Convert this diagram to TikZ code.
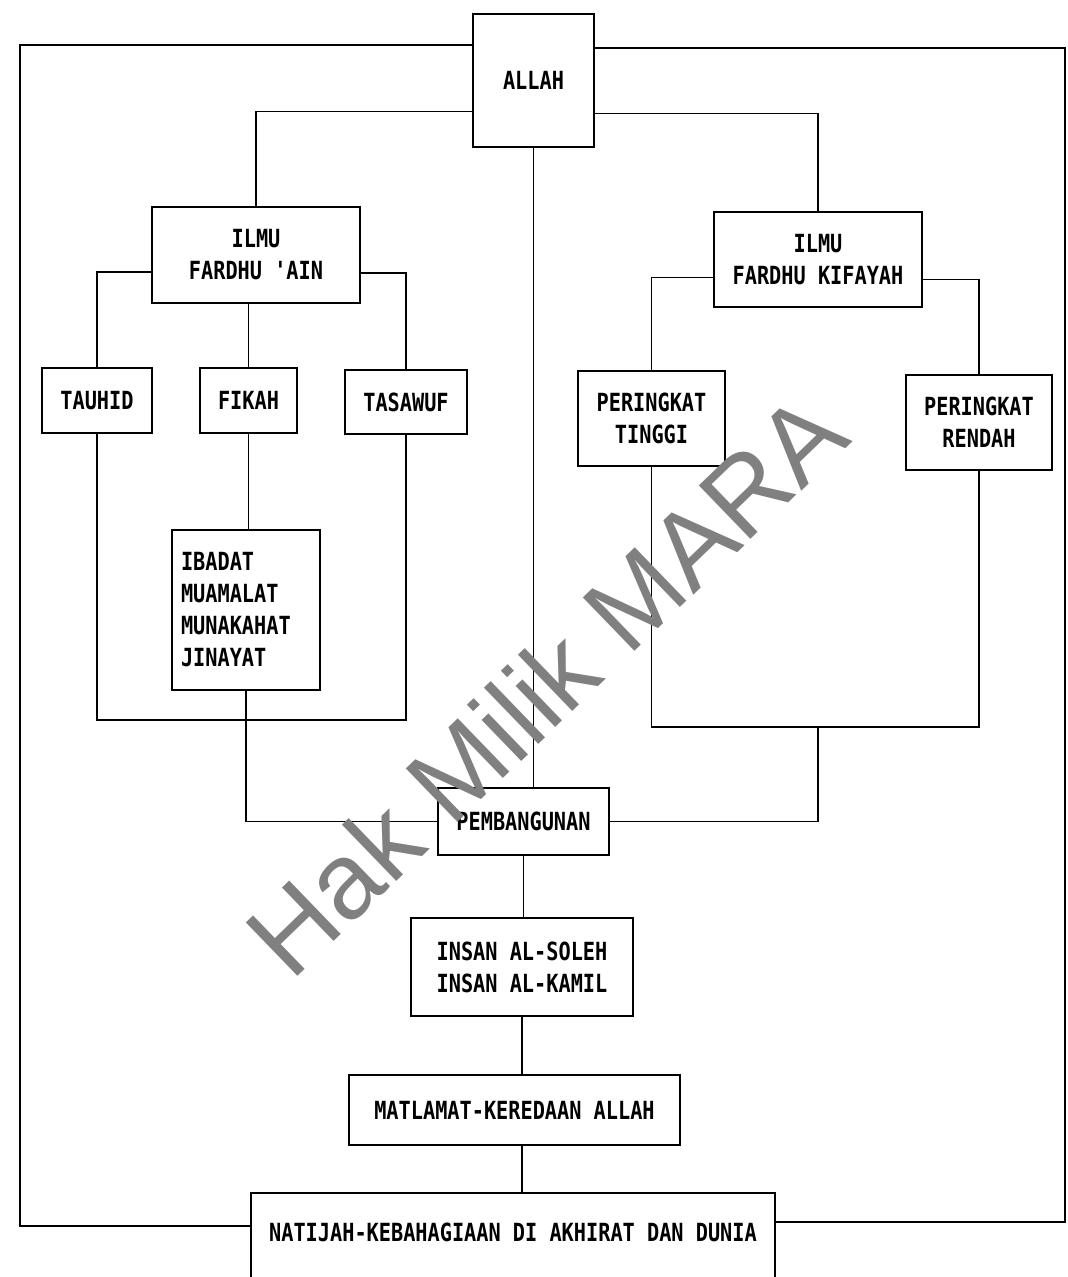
\documentclass[tikz,border=0pt]{standalone}
\usepackage{fontspec}
\usepackage{tikz}
\usetikzlibrary{calc}
\newfontfamily\dotfont{DejaVu Sans Mono}[FakeStretch=0.81]
\newfontfamily\markfont{Liberation Sans}
\tikzset{
	kotak/.style={draw, line width=2.6pt, inner sep=0pt, align=center, font=\dotfont\bfseries\fontsize{25}{32}\selectfont},
	garis/.style={line width=1.8pt},
	tera/.style={rotate=44, anchor=base west, inner sep=0pt, text=gray, font=\markfont\fontsize{108}{108}\selectfont},
}

\begin{document}
\begin{tikzpicture}[x=1pt, y=-1pt]
			%%%%% START %%%%%
			\useasboundingbox (0, 0) rectangle (1068, 1277);
			
			\node[kotak, minimum width=121pt, minimum height=133pt] (allah) at (533.5, 80.5) {ALLAH};
			
			\node[kotak, minimum width=208pt, minimum height=96pt] (ain) at (256, 255) {ILMU\\FARDHU 'AIN};
			\node[kotak, minimum width=208pt, minimum height=95pt] (kifayah) at (818, 259.5) {ILMU\\FARDHU KIFAYAH};
			
			\node[kotak, minimum width=110pt, minimum height=65pt] (tauhid) at (97, 400.5) {TAUHID};
			\node[kotak, minimum width=97pt, minimum height=65pt] (fikah) at (248.5, 400.5) {FIKAH};
			\node[kotak, minimum width=122pt, minimum height=64pt] (tasawuf) at (406, 402) {TASAWUF};
			\node[kotak, minimum width=148pt, minimum height=160pt, align=left, text width=130pt, inner xsep=9pt] (ibadat) at (246, 610) {IBADAT\\MUAMALAT\\MUNAKAHAT\\JINAYAT};
			
			\node[kotak, minimum width=147pt, minimum height=95pt] (tinggi) at (651.5, 418.5) {PERINGKAT\\TINGGI};
			\node[kotak, minimum width=146pt, minimum height=95pt] (rendah) at (979, 422.5) {PERINGKAT\\RENDAH};
			
			\node[kotak, minimum width=171pt, minimum height=67pt] (pemb) at (523.5, 821.5) {PEMBANGUNAN};
			\node[kotak, minimum width=222pt, minimum height=98pt] (insan) at (522, 967) {INSAN AL-SOLEH\\INSAN AL-KAMIL};
			\node[kotak, minimum width=331pt, minimum height=70pt] (matlamat) at (514.5, 1110) {MATLAMAT-KEREDAAN ALLAH};
			\node[kotak, minimum width=524pt, minimum height=100pt, text depth=22pt] (natijah) at (513, 1243) {NATIJAH-KEBAHAGIAAN DI AKHIRAT DAN DUNIA};
			
			% loop luar
			\coordinate (kiriAtas) at (20, 45);
			\coordinate (kiriBawah) at (20, 1226);
			\coordinate (kananAtas) at (1065, 48);
			\coordinate (kananBawah) at (1065, 1222);
			\draw[garis] (allah.west |- kiriAtas) -- (kiriAtas) -- (kiriBawah) -- (natijah.west |- kiriBawah);
			\draw[garis] (allah.east |- kananAtas) -- (kananAtas) -- (kananBawah) -- (natijah.east |- kananBawah);
			
			\draw[garis] ($(allah.west)+(0, 31)$) -| (ain);
			\draw[garis] ($(allah.east)+(0, 33)$) -| (kifayah);
			\draw[garis] (allah.south) -- (allah.south |- pemb.north);
			
			\draw[garis] ($(ain.west)+(0, 17)$) -| (tauhid);
			\draw[garis] (ain.south -| fikah) -- (fikah);
			\draw[garis] ($(ain.east)+(0, 18)$) -| (tasawuf);
			\coordinate (simpulAin) at (250, 720);
			\draw[garis] (tauhid) |- (simpulAin) -| (tasawuf);
			\draw[garis] (fikah) -- (fikah |- ibadat.north);
			\draw[garis] (ibadat) |- (pemb);
			
			\draw[garis] ($(kifayah.west)+(0, 18)$) -| (tinggi);
			\draw[garis] ($(kifayah.east)+(0, 20)$) -| (rendah);
			\coordinate (simpulKifayah) at (818, 727);
			\draw[garis] (tinggi) |- (simpulKifayah) -| (rendah);
			\draw[garis] (simpulKifayah) |- (pemb);
			
			\draw[garis] (pemb) -- (pemb |- insan.north);
			\draw[garis] (insan) -- (insan |- matlamat.north);
			\draw[garis] (insan |- matlamat.south) -- (insan |- natijah.north);
			
			% tera air
			\coordinate (teraAwal) at (291.6, 983);
			\node[tera] (teraHak) at (teraAwal) {Hak};
			\node[tera] (teraMilik) at ($(teraAwal)+(-44:222)$) {Milik};
			\node[tera] (teraMara) at ($(teraAwal)+(-44:468)$) {MARA};
			
			%%%%% END %%%%%
\end{tikzpicture}
\end{document}
